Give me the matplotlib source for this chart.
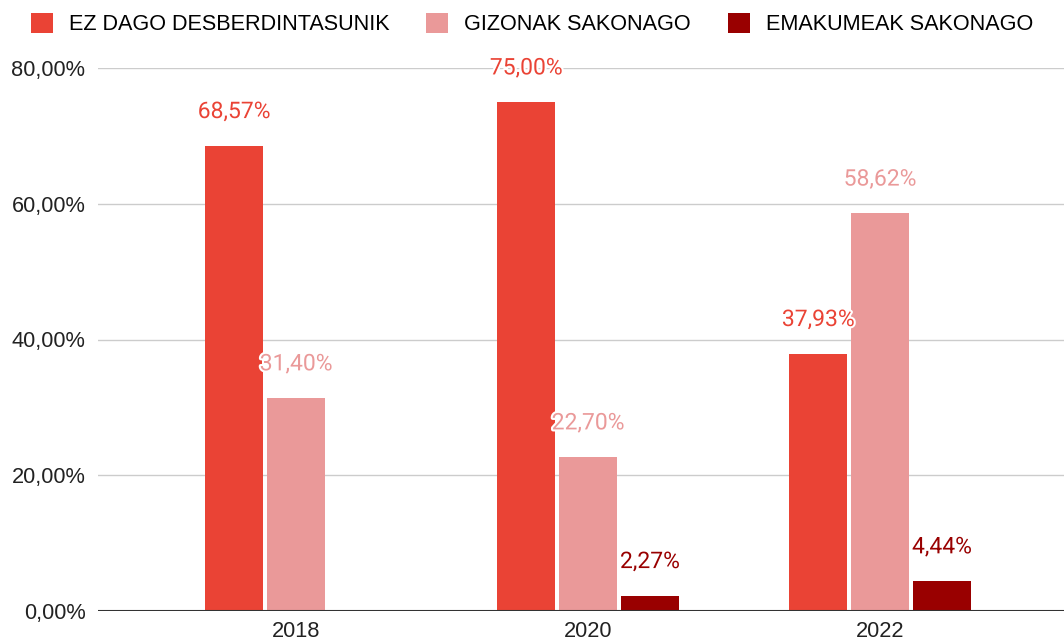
import numpy as np
import matplotlib.pyplot as plt
import matplotlib.patheffects as pe

years = ["2018", "2020", "2022"]
series = ["EZ DAGO DESBERDINTASUNIK", "GIZONAK SAKONAGO", "EMAKUMEAK SAKONAGO"]
ez_dago = [68.57, 75.00, 37.93]
gizonak = [31.40, 22.70, 58.62]
emakumeak = [None, 2.27, 4.44]
colors = ["#EA4335", "#EA9999", "#990000"]

plt.rcParams['font.family'] = ['Liberation Sans', 'DejaVu Sans']

fig = plt.figure(figsize=(10.64, 6.42), dpi=100)
ax = fig.add_axes([98/1064, 31/642, 1 - 98/1064, (611-68)/642])

x = np.arange(len(years))
width = 0.199
step = 0.212

for i, (name, vals, col) in enumerate(zip(series, [ez_dago, gizonak, emakumeak], colors)):
    xs = [xx + (i - 1) * step for xx, v in zip(x, vals) if v is not None]
    vs = [v for v in vals if v is not None]
    ax.bar(xs, vs, width=width, color=col, label=name, zorder=3)
    for xx, v in zip(xs, vs):
        txt = f"{v:.2f}".replace(".", ",") + "%"
        ax.annotate(txt, (xx, v), xytext=(0, 24.5), textcoords="offset points",
                    ha="center", va="center", color=col, fontsize=16.5,
                    family="Roboto", zorder=5,
                    path_effects=[pe.withStroke(linewidth=3, foreground="white")])

ax.set_xlim(-0.678, 2.63)
ax.set_ylim(0, 80)
ax.set_yticks([0, 20, 40, 60, 80])
ax.set_yticklabels(["0,00%", "20,00%", "40,00%", "60,00%", "80,00%"])
ax.set_xticks(x)
ax.set_xticklabels(years)
ax.tick_params(axis="both", length=0, labelsize=15.7, colors="#222222")
ax.tick_params(axis="y", pad=9)
ax.tick_params(axis="x", pad=7)
ax.grid(axis="y", color="#cccccc", linewidth=1, zorder=0)
for s in ["top", "right", "left", "bottom"]:
    ax.spines[s].set_visible(False)
ax.axhline(0, color="#333333", linewidth=1.5, zorder=4)

fig.legend(loc="upper center", bbox_to_anchor=(0.5, 1.0), ncol=3, frameon=False,
           fontsize=15.6, handlelength=1.01, handleheight=1.01, handletextpad=0.74,
           columnspacing=1.7, borderaxespad=0.2)

fig.savefig("out.png", dpi=100)
